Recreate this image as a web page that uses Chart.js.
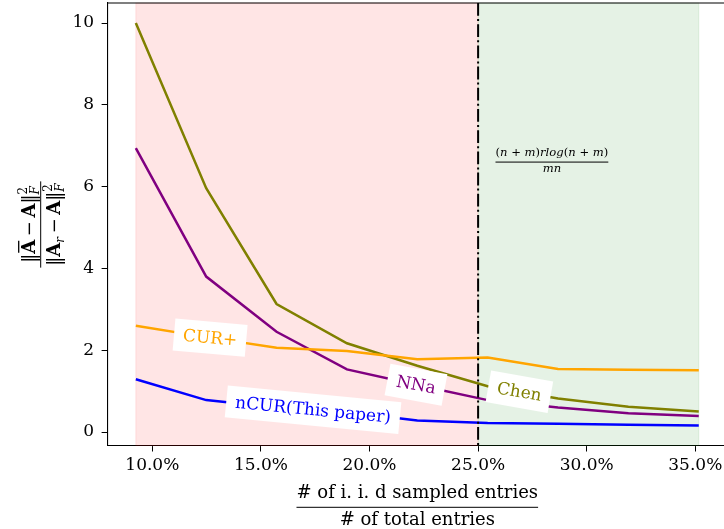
<!DOCTYPE html>
<html>
<head>
<meta charset="utf-8">
<script src="https://cdn.jsdelivr.net/npm/chart.js@4"></script>
<style>
  html, body { margin: 0; padding: 0; background: #fff; overflow: hidden; }
  #wrap { width: 730px; height: 529px; }
</style>
</head>
<body>
<div id="wrap"><canvas id="chart" width="730" height="529"></canvas></div>
<script>
// sampled fraction (% of total entries) and error ratio per method
const sampleFrac = [9.24, 12.48, 15.72, 18.96, 22.2, 25.44, 28.68, 31.92, 35.16];
const chen = [10.0, 5.96, 3.13, 2.17, 1.62, 1.12, 0.82, 0.62, 0.50];
const nna = [6.94, 3.80, 2.45, 1.53, 1.15, 0.78, 0.60, 0.46, 0.39];
const curPlus = [2.60, 2.32, 2.06, 1.98, 1.78, 1.82, 1.54, 1.52, 1.51];
const ncur = [1.29, 0.78, 0.60, 0.49, 0.28, 0.22, 0.20, 0.18, 0.16];

const xTicks = [10, 15, 20, 25, 30, 35];
const yTicks = [0, 2, 4, 6, 8, 10];

const threshold = 25;
const redSpan = [9.24, 25];
const greenSpan = [25, 35.16];
const annotPos = [25.8, 6.6];

const SERIF = '"DejaVu Serif", serif';

const series = [
  { name: 'nCUR(This paper)', data: ncur, color: '#0000ff', labelX: 17.4, angle: 5.5 },
  { name: 'CUR+', data: curPlus, color: '#ffa500', labelX: 12.66, angle: 5 },
  { name: 'NNa', data: nna, color: '#800080', labelX: 22.14, angle: 10.5 },
  { name: 'Chen', data: chen, color: '#808000', labelX: 26.9, angle: 10 }
];

// draws a row of text pieces, centred on cx, returns width
function drawRuns(ctx, runs, cx, baseY, color) {
  let total = 0, held = 0;
  runs.forEach(r => {
    ctx.font = r.f;
    r._w = ctx.measureText(r.t).width + (r.kern || 0);
    if (r.hold) { held = r._w; }
    else { total += Math.max(r._w, held); held = 0; }
  });
  let x = cx - total / 2;
  held = 0;
  ctx.fillStyle = color;
  ctx.strokeStyle = color;
  ctx.textAlign = 'left';
  ctx.textBaseline = 'alphabetic';
  runs.forEach(r => {
    ctx.font = r.f;
    ctx.fillText(r.t, x, baseY + (r.dy || 0));
    if (r.over) {
      ctx.lineWidth = 1.3;
      ctx.beginPath();
      ctx.moveTo(x + 1, baseY - r.over);
      ctx.lineTo(x + r._w - 1, baseY - r.over);
      ctx.stroke();
    }
    if (r.hold) { held = r._w; }
    else { x += Math.max(r._w, held); held = 0; }
  });
  return total;
}

const decorPlugin = {
  id: 'decor',
  beforeDatasetsDraw(chart) {
    const { ctx, chartArea: a, scales: { x: xs } } = chart;
    ctx.save();
    [[redSpan, 'rgba(255,0,0,0.1)'], [greenSpan, 'rgba(0,128,0,0.1)']].forEach(([sp, c]) => {
      const x0 = xs.getPixelForValue(sp[0]), x1 = xs.getPixelForValue(sp[1]);
      ctx.fillStyle = c;
      ctx.fillRect(x0, a.top, x1 - x0, a.bottom - a.top);
      ctx.strokeStyle = c;
      ctx.lineWidth = 1;
      ctx.strokeRect(x0, a.top, x1 - x0, a.bottom - a.top);
    });
    ctx.restore();
  },
  afterDatasetsDraw(chart) {
    const { ctx, chartArea: a, scales: { x: xs, y: ys } } = chart;
    ctx.save();
    // threshold line
    const tx = xs.getPixelForValue(threshold);
    ctx.strokeStyle = '#000';
    ctx.lineWidth = 2;
    ctx.setLineDash([12.8, 3.2, 2, 3.2]);
    ctx.beginPath();
    ctx.moveTo(tx, a.top);
    ctx.lineTo(tx, a.bottom);
    ctx.stroke();
    ctx.setLineDash([]);

    // top / right spines
    ctx.lineWidth = 1.1;
    ctx.beginPath();
    ctx.moveTo(a.left, a.top);
    ctx.lineTo(a.right, a.top);
    ctx.lineTo(a.right, a.bottom);
    ctx.stroke();

    // inline labels
    series.forEach(s => {
      let i = 0;
      while (i < sampleFrac.length - 2 && sampleFrac[i + 1] < s.labelX) i++;
      const x0 = xs.getPixelForValue(sampleFrac[i]), x1 = xs.getPixelForValue(sampleFrac[i + 1]);
      const y0 = ys.getPixelForValue(s.data[i]), y1 = ys.getPixelForValue(s.data[i + 1]);
      const px = xs.getPixelForValue(s.labelX);
      const py = y0 + (px - x0) / (x1 - x0) * (y1 - y0);
      ctx.save();
      ctx.translate(px, py);
      ctx.rotate(s.angle * Math.PI / 180);
      ctx.font = '17px ' + SERIF;
      const w = ctx.measureText(s.name).width;
      ctx.fillStyle = '#fff';
      ctx.fillRect(-w / 2 - 9, -16, w + 18, 32);
      ctx.fillStyle = s.color;
      ctx.textAlign = 'center';
      ctx.textBaseline = 'middle';
      ctx.fillText(s.name, 0, 1);
      ctx.restore();
    });

    // threshold formula
    const ax = xs.getPixelForValue(annotPos[0]);
    const ay = ys.getPixelForValue(annotPos[1]);
    const up = '11.6px ' + SERIF, it = 'italic 11.6px ' + SERIF;
    const num = [
      { t: '(', f: up }, { t: 'n', f: it }, { t: ' + ', f: up }, { t: 'm', f: it }, { t: ')', f: up },
      { t: 'rlog', f: it },
      { t: '(', f: up }, { t: 'n', f: it }, { t: ' + ', f: up }, { t: 'm', f: it }, { t: ')', f: up }
    ];
    let nw = 0;
    num.forEach(r => { ctx.font = r.f; nw += ctx.measureText(r.t).width; });
    const cx = ax + nw / 2;
    drawRuns(ctx, num, cx, ay - 6, '#000');
    ctx.strokeStyle = '#000';
    ctx.lineWidth = 1;
    ctx.beginPath();
    ctx.moveTo(ax, ay);
    ctx.lineTo(ax + nw, ay);
    ctx.stroke();
    drawRuns(ctx, [{ t: 'mn', f: it }], cx, ay + 9.7, '#000');
    ctx.restore();
  },
  afterDraw(chart) {
    const { ctx, chartArea: a } = chart;
    ctx.save();
    // x axis title as a fraction
    const xc = (a.left + a.right) / 2;
    const xf = '18px ' + SERIF;
    const w1 = drawRuns(ctx, [{ t: '# of i. i. d sampled entries', f: xf }], xc, 498, '#000');
    drawRuns(ctx, [{ t: '# of total entries', f: xf }], xc, 525, '#000');
    ctx.strokeStyle = '#000';
    ctx.lineWidth = 1;
    ctx.beginPath();
    ctx.moveTo(xc - w1 / 2, 507.3);
    ctx.lineTo(xc + w1 / 2, 507.3);
    ctx.stroke();

    // y axis title as a fraction, rotated
    ctx.translate(40.7, 224.5);
    ctx.rotate(-Math.PI / 2);
    const f = '18px ' + SERIF, fb = 'bold 18px ' + SERIF, fs = '12px ' + SERIF, fi = 'italic 12px ' + SERIF;
    const minus = { t: '\u2009\u2212\u2009', f: f };
    const nwid = drawRuns(ctx, [
      { t: '\u2016', f: f }, { t: 'A', f: fb, over: 16 }, minus, { t: 'A', f: fb },
      { t: '\u2016', f: f }, { t: '2', f: fs, dy: -8, hold: true }, { t: 'F', f: fi, dy: 4 }
    ], 0, -6, '#000');
    const dwid = drawRuns(ctx, [
      { t: '\u2016', f: f }, { t: 'A', f: fb }, { t: 'r', f: fi, dy: 4 }, minus, { t: 'A', f: fb },
      { t: '\u2016', f: f }, { t: '2', f: fs, dy: -8, hold: true }, { t: 'F', f: fi, dy: 4 }
    ], 0, 19, '#000');
    const bw = Math.max(nwid, dwid) + 4;
    ctx.lineWidth = 1;
    ctx.beginPath();
    ctx.moveTo(-bw / 2, 0);
    ctx.lineTo(bw / 2, 0);
    ctx.stroke();
    ctx.restore();
  }
};

function noEdgePad(s) {
  s.paddingTop = 0; s.paddingBottom = 0; s.paddingLeft = 0; s.paddingRight = 0;
}

new Chart(document.getElementById('chart'), {
  type: 'line',
  data: {
    datasets: series.map(s => ({
      label: s.name,
      data: sampleFrac.map((x, i) => ({ x: x, y: s.data[i] })),
      borderColor: s.color,
      borderWidth: 2.5,
      pointRadius: 0,
      tension: 0,
      fill: false
    }))
  },
  options: {
    responsive: false,
    animation: false,
    devicePixelRatio: 1,
    layout: { padding: { top: 3, right: 3, left: 0, bottom: 0 } },
    plugins: { legend: { display: false }, tooltip: { enabled: false } },
    scales: {
      x: {
        type: 'linear',
        min: 7.94,
        max: 36.46,
        afterBuildTicks: s => { s.ticks = xTicks.map(v => ({ value: v })); },
        afterFit: s => { s.height = 83.5; noEdgePad(s); },
        ticks: {
          callback: v => v.toFixed(1) + '%',
          font: { family: SERIF, size: 17 },
          color: '#000',
          padding: 4,
          maxRotation: 0,
          autoSkip: false
        },
        grid: { drawOnChartArea: false, tickLength: 6, color: '#000' },
        border: { color: '#000', width: 1.1 }
      },
      y: {
        type: 'linear',
        min: -0.33,
        max: 10.49,
        afterBuildTicks: s => { s.ticks = yTicks.map(v => ({ value: v })); },
        afterFit: s => { s.width = 107.6; noEdgePad(s); },
        ticks: {
          font: { family: SERIF, size: 17 },
          color: '#000',
          padding: 7.5
        },
        grid: { drawOnChartArea: false, tickLength: 6, color: '#000' },
        border: { color: '#000', width: 1.1 }
      }
    }
  },
  plugins: [decorPlugin]
});
</script>
</body>
</html>
